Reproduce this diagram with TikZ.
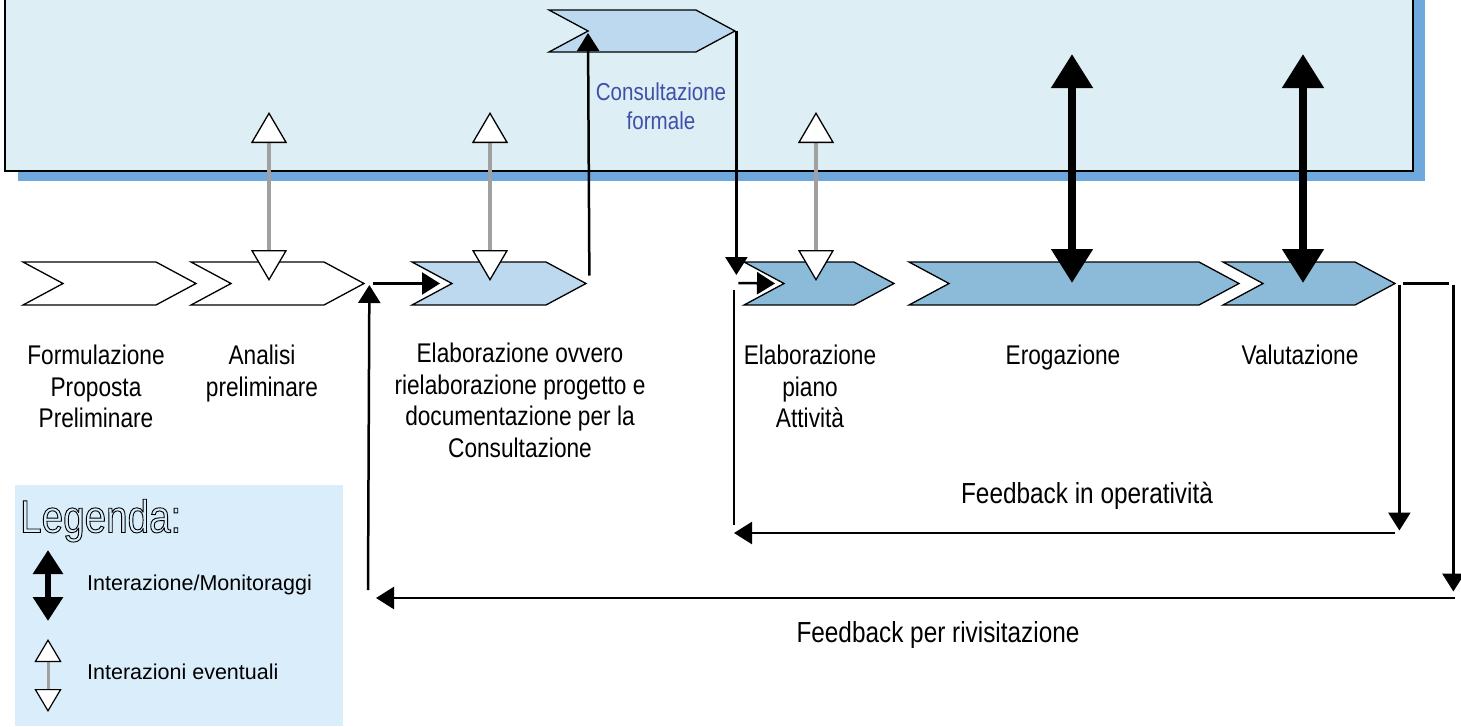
\documentclass[tikz,border=0pt]{standalone}
\usepackage{fontspec}
\setmainfont{Liberation Sans}
\newfontfamily\narrowfont{Liberation Sans}[FakeStretch=0.84]
\usetikzlibrary{shapes.symbols,arrows.meta,calc}
\definecolor{boxbg}{RGB}{222,238,245}
\definecolor{boxshadow}{RGB}{111,168,220}
\definecolor{phaselight}{RGB}{189,217,240}
\definecolor{phasedark}{RGB}{139,187,217}
\definecolor{legendbg}{RGB}{218,237,250}
\definecolor{consultblue}{RGB}{64,80,170}
\definecolor{shaftgray}{RGB}{160,160,160}

\begin{document}
\begin{tikzpicture}[x=1pt,y=-1pt,
  phase/.style={signal,signal from=west,signal to=east,signal pointer angle=56.5,
    draw,line width=1.3pt,inner sep=0pt,minimum height=43pt},
  conn/.style={line width=2.5pt,-{Triangle[length=18pt,width=22pt]}},
  plain/.style={line width=2.5pt},
  maybe/.style={shaftgray,line width=4pt,
    {Triangle[length=31pt,width=36pt,fill=white,color=black,line width=1.3pt]}-{Triangle[length=31pt,width=36pt,fill=white,color=black,line width=1.3pt]}},
  monitor/.style={line width=8pt,{Triangle[length=34pt,width=40pt]}-{Triangle[length=34pt,width=40pt]}},
  lbl/.style={font=\narrowfont\fontsize{27}{31.5}\selectfont,align=center,anchor=north,inner sep=0pt},
  feedlbl/.style={font=\narrowfont\fontsize{29}{34}\selectfont,anchor=north,inner sep=0pt},
  legtext/.style={font=\fontsize{21.5}{25}\selectfont,anchor=west,inner sep=0pt}]
\useasboundingbox (0,0) rectangle (1461,726);
\fill[boxshadow] (18,-10) rectangle (1425,181);
\draw[line width=2.5pt,fill=boxbg] (5,-10) rectangle (1413,171);
\fill[legendbg] (15,485) rectangle (343,726);

\node[phase,minimum width=173pt,fill=white] (formul) at (109.5,283.5) {};
\node[phase,minimum width=173pt,fill=white] (analisi) at (277.5,283.5) {};
\node[phase,minimum width=174pt,fill=phaselight] (elab) at (499,283.5) {};
\node[phase,minimum width=150pt,fill=phasedark] (piano) at (819,283.5) {};
\node[phase,minimum width=330pt,fill=phasedark] (eroga) at (1074,283.5) {};
\node[phase,minimum width=172pt,fill=phasedark] (valuta) at (1309,283.5) {};
\node[phase,minimum width=186pt,minimum height=42pt,fill=phaselight] (consult) at (642,31) {};

\coordinate (revisitL) at (368,590);
\coordinate (revisitR) at (1455,598);
\coordinate (revisitEnd) at (376,598);
\coordinate (operL) at (734,290);
\coordinate (operLend) at (734,525);
\coordinate (operR) at (1395,533);
\coordinate (operEnd) at (734,533);

\draw[conn] ($(analisi.east)+(8,0)$) -- ($(elab.center)+(-59,0)$);
\draw[conn] (revisitL) -- ($(analisi.east)+(4,1.5)$);
\draw[conn] ($(elab.east)+(2,-8)$) -- ($(consult.center)+(-54,2)$);
\draw[conn] (consult.east) -- ($(consult.east)+(0,244)$);
\draw[conn] ($(consult.east)+(2,252)$) -- ($(piano.center)+(-44,0)$);
\draw[plain] (operL) -- (operLend);
\draw[conn] (operR) -- (operEnd);
\draw[conn] ($(valuta.east)+(3,1)$) -- ($(valuta.east)+(3,247)$);
\draw[plain] ($(valuta.east)+(7,0)$) -- ($(valuta.east)+(53,0)$);
\draw[conn] ($(valuta.east)+(57,1)$) -- ($(valuta.east)+(57,308)$);
\draw[conn] (revisitR) -- (revisitEnd);

\foreach \x in {269,490,816}
  \draw[maybe] (\x,112) -- (\x,281);
\foreach \x in {1072,1303}
  \draw[monitor] (\x,54) -- (\x,283);

\node[lbl,font=\narrowfont\fontsize{24.5}{29}\selectfont,text=consultblue] (tconsult) at (661,83) {Consultazione\\formale};
\node[lbl] (tformul) at (96,345) {Formulazione\\Proposta\\Preliminare};
\node[lbl] (tanalisi) at (262,345) {Analisi\\preliminare};
\node[lbl] (telab) at (520,343) {Elaborazione ovvero\\rielaborazione progetto e\\documentazione per la\\Consultazione};
\node[lbl] (tpiano) at (810,345) {Elaborazione\\piano\\Attività};
\node[lbl] (teroga) at (1063,345) {Erogazione};
\node[lbl] (tvaluta) at (1300,345) {Valutazione};
\node[feedlbl] (toper) at (1087,482) {Feedback in operatività};
\node[feedlbl] (trevisit) at (938,621) {Feedback per rivisitazione};

\node[anchor=north west,inner sep=0pt,font=\narrowfont\fontsize{46}{52}\selectfont] (legtitle) at (20,499)
  {\special{pdf:literal direct 1 Tr 0.9 w}Legenda:\special{pdf:literal direct 0 Tr}};
\draw[line width=6pt,{Triangle[length=24pt,width=29pt]}-{Triangle[length=24pt,width=29pt]}] (48,550) -- (48,621);
\node[legtext] (tmonitor) at (87,585) {Interazione/Monitoraggi};
\draw[shaftgray,line width=3pt,{Triangle[length=23pt,width=27pt,fill=white,color=black,line width=1.2pt]}-{Triangle[length=23pt,width=27pt,fill=white,color=black,line width=1.2pt]}] (48,639) -- (48,712);
\node[legtext] (tmaybe) at (87,672) {Interazioni eventuali};
\end{tikzpicture}
\end{document}
